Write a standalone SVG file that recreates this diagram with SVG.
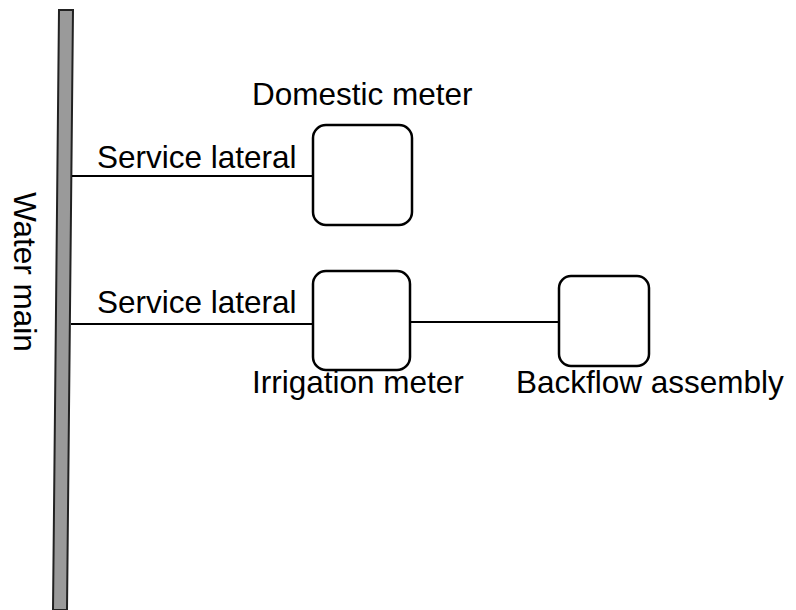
<svg xmlns="http://www.w3.org/2000/svg" width="796" height="610" viewBox="0 0 796 610">
<style>
text{font-family:"Liberation Sans",Arial,sans-serif;font-size:31.5px;fill:#000}
.box{fill:#fff;stroke:#000;stroke-width:2.5}
.pipe{stroke:#000;stroke-width:2;fill:none}
</style>
<rect width="796" height="610" fill="#fff"/>
<g id="water-main">
<polygon points="59,10 73,10 67,610 53,610" fill="#9a9a9a" stroke="#222" stroke-width="2"/>
<text transform="translate(14,192) rotate(90)">Water main</text>
</g>
<g id="connectors">
<line class="pipe" x1="72" y1="176" x2="313" y2="176"/>
<line class="pipe" x1="71" y1="324" x2="313" y2="324"/>
<line class="pipe" x1="410" y1="322" x2="559" y2="322"/>
</g>
<g id="domestic-meter">
<rect class="box" x="313" y="125" width="99" height="100" rx="13"/>
<text x="252" y="105">Domestic meter</text>
</g>
<g id="irrigation-meter">
<rect class="box" x="313" y="271" width="97" height="99" rx="13"/>
<text x="252" y="393">Irrigation meter</text>
</g>
<g id="backflow-assembly">
<rect class="box" x="559" y="276" width="90" height="90" rx="12"/>
<text x="516" y="393">Backflow assembly</text>
</g>
<g id="labels">
<text x="97" y="168">Service lateral</text>
<text x="97" y="313">Service lateral</text>
</g>
</svg>
